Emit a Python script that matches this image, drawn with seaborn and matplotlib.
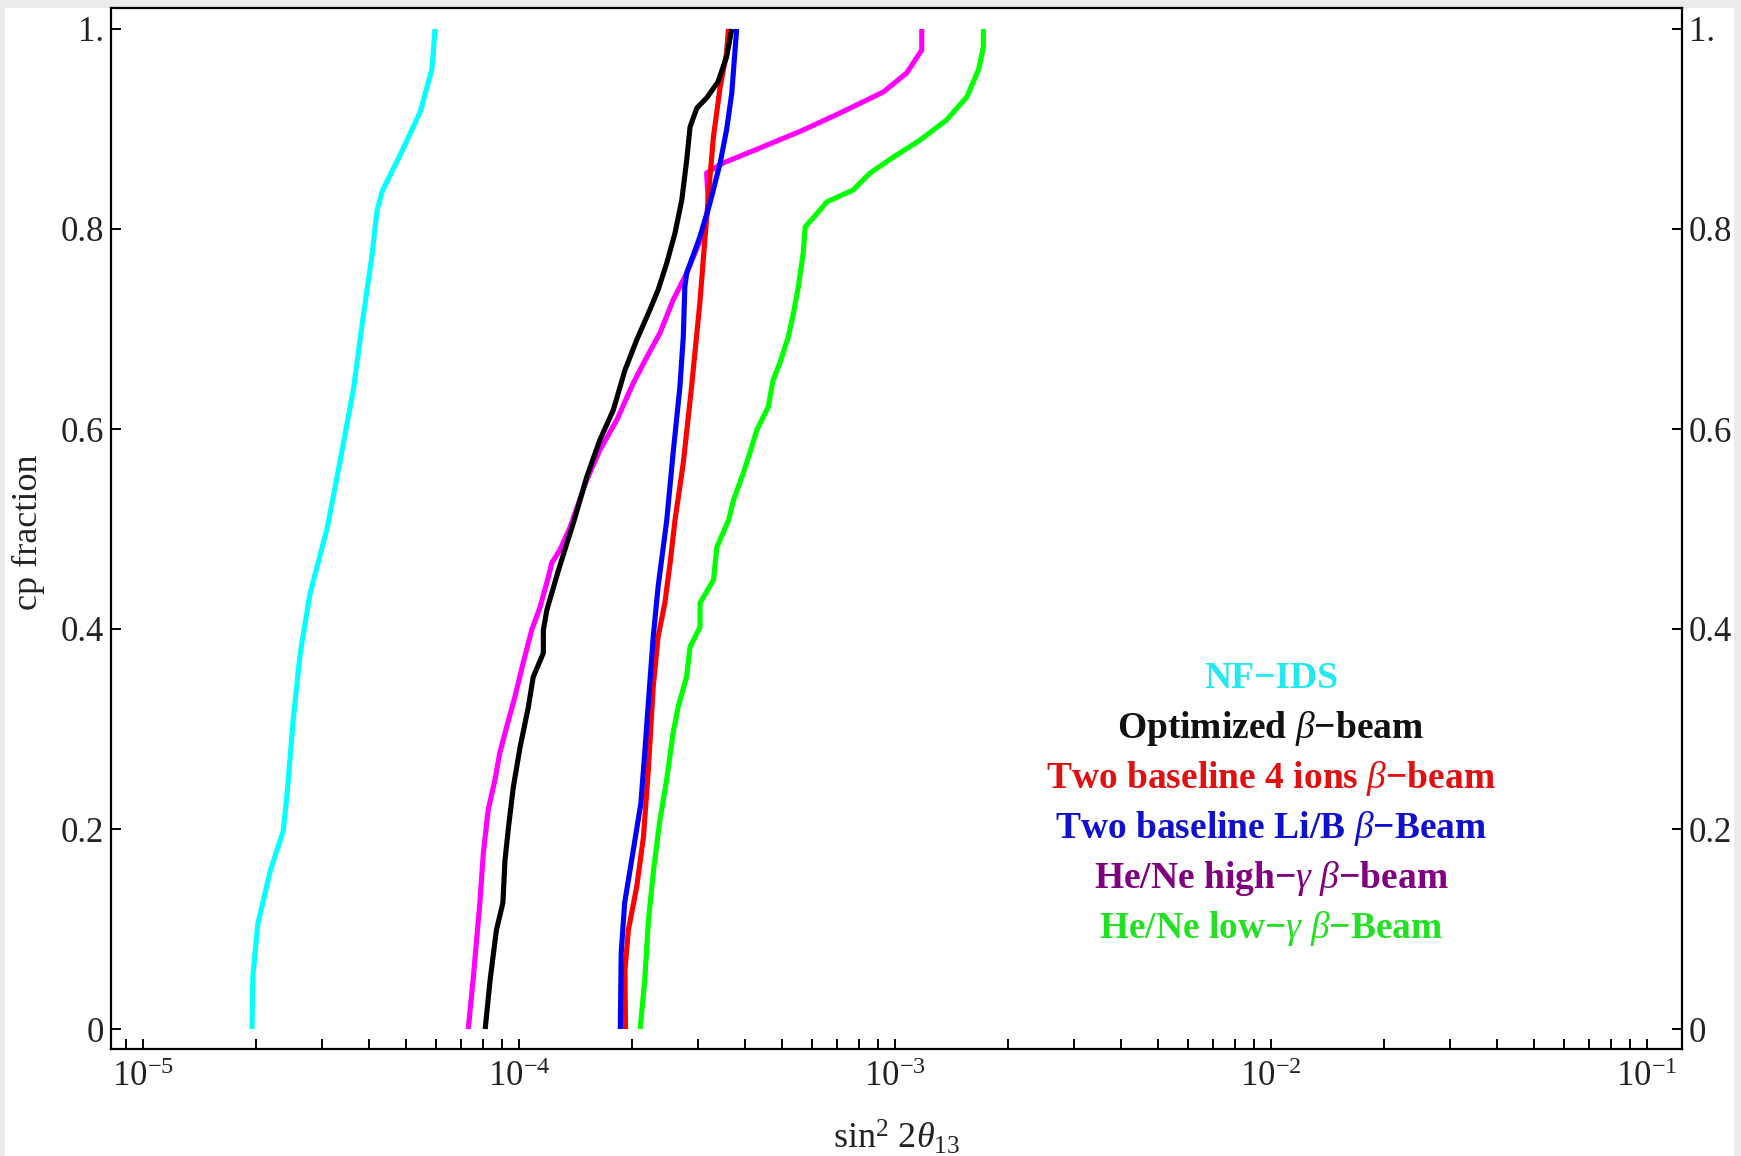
import matplotlib
matplotlib.use("Agg")
import numpy as np
import pandas as pd
import matplotlib.pyplot as plt
import seaborn as sns
from matplotlib.patches import Rectangle
from matplotlib.ticker import LogLocator, NullFormatter, FixedLocator, FixedFormatter

# ---------------- data ----------------
nf_cp = [0, .053, .105, .158, .198, .237, .31, .376, .435, .501, .567, .64, .712, .772, .818, .838, .874, .917, .96, 1.0]
nf_s2 = [1.95e-5, 1.96e-5, 2.02e-5, 2.18e-5, 2.36e-5, 2.42e-5, 2.51e-5, 2.62e-5, 2.78e-5, 3.09e-5,
         3.34e-5, 3.63e-5, 3.85e-5, 4.06e-5, 4.19e-5, 4.33e-5, 4.83e-5, 5.46e-5, 5.87e-5, 5.98e-5]

opt_cp = [0, .049, .099, .126, .169, .202, .242, .282, .322, .352, .376, .399, .419, .459, .509, .552,
          .589, .619, .659, .689, .719, .739, .766, .796, .829, .869, .902, .921, .931, .947, .972, 1.0]
opt_s2 = [8.13e-5, 8.38e-5, 8.71e-5, 9.06e-5, 9.18e-5, 9.38e-5, 9.66e-5, 1.007e-4, 1.059e-4, 1.091e-4,
          1.161e-4, 1.161e-4, 1.186e-4, 1.274e-4, 1.403e-4, 1.514e-4, 1.641e-4, 1.782e-4, 1.914e-4,
          2.056e-4, 2.228e-4, 2.344e-4, 2.472e-4, 2.600e-4, 2.710e-4, 2.793e-4, 2.851e-4, 2.972e-4,
          3.155e-4, 3.381e-4, 3.565e-4, 3.681e-4]

ions_cp = [0, .059, .099, .142, .192, .259, .342, .392, .426, .466, .509, .566, .642, .726, .792, .852, .892, .942, .976, 1.0]
ions_s2 = [1.92e-4, 1.914e-4, 1.954e-4, 2.056e-4, 2.143e-4, 2.208e-4, 2.275e-4, 2.344e-4, 2.443e-4,
           2.523e-4, 2.600e-4, 2.735e-4, 2.877e-4, 3.027e-4, 3.126e-4, 3.221e-4, 3.289e-4, 3.428e-4,
           3.565e-4, 3.606e-4]

lib_cp = [0, .076, .126, .182, .226, .276, .326, .392, .442, .509, .576, .642, .692, .742, .756, .792, .826, .866, .899, .936, .976, 1.0]
lib_s2 = [1.86e-4, 1.87e-4, 1.91e-4, 2.02e-4, 2.11e-4, 2.16e-4, 2.208e-4, 2.275e-4, 2.344e-4, 2.472e-4,
          2.570e-4, 2.679e-4, 2.735e-4, 2.761e-4, 2.793e-4, 3.027e-4, 3.221e-4, 3.428e-4, 3.565e-4,
          3.681e-4, 3.750e-4, 3.793e-4]

high_cp = [0, .049, .126, .176, .219, .249, .276, .302, .332, .366, .399, .422, .452, .466, .479, .502,
           .549, .579, .609, .646, .672, .696, .729, .756, .796, .822, .856, .866, .881, .899, .916, .937,
           .956, .979, 1.0]
high_s2 = [7.33e-5, 7.55e-5, 7.87e-5, 8.04e-5, 8.28e-5, 8.63e-5, 8.89e-5, 9.27e-5, 9.75e-5, 1.026e-4,
           1.081e-4, 1.138e-4, 1.197e-4, 1.222e-4, 1.285e-4, 1.368e-4, 1.514e-4, 1.641e-4, 1.820e-4,
           2.014e-4, 2.188e-4, 2.371e-4, 2.570e-4, 2.793e-4, 3.090e-4, 3.192e-4, 3.155e-4, 3.491e-4,
           4.375e-4, 5.702e-4, 7.145e-4, 9.311e-4, 1.074e-3, 1.178e-3, 1.178e-3]

low_cp = [0, .049, .109, .159, .209, .249, .296, .322, .352, .382, .402, .426, .449, .482, .509, .529,
          .556, .576, .599, .622, .649, .666, .692, .716, .742, .776, .802, .819, .827, .839, .856, .872,
          .889, .909, .932, .959, .982, 1.0]
low_s2 = [2.10e-4, 2.16e-4, 2.21e-4, 2.28e-4, 2.37e-4, 2.47e-4, 2.57e-4, 2.65e-4, 2.79e-4, 2.85e-4,
          3.03e-4, 3.03e-4, 3.29e-4, 3.36e-4, 3.61e-4, 3.72e-4, 3.95e-4, 4.11e-4, 4.29e-4, 4.60e-4,
          4.74e-4, 4.94e-4, 5.20e-4, 5.37e-4, 5.53e-4, 5.70e-4, 5.77e-4, 6.32e-4, 6.58e-4, 7.74e-4,
          8.59e-4, 9.91e-4, 1.167e-3, 1.371e-3, 1.552e-3, 1.667e-3, 1.718e-3, 1.718e-3]

labels = ["NF\u2212IDS",
          "Optimized $\\beta$\u2212beam",
          "Two baseline 4 ions $\\beta$\u2212beam",
          "Two baseline Li/B $\\beta$\u2212Beam",
          "He/Ne high\u2212$\\gamma$ $\\beta$\u2212beam",
          "He/Ne low\u2212$\\gamma$ $\\beta$\u2212Beam"]
label_y = [0.35, 0.30, 0.25, 0.20, 0.15, 0.10]
label_x = 1e-2

xticks = [1e-5, 1e-4, 1e-3, 1e-2, 1e-1]
xticklabels = ["$10^{-5}$", "$10^{-4}$", "$10^{-3}$", "$10^{-2}$", "$10^{-1}$"]
yticks = [0, 0.2, 0.4, 0.6, 0.8, 1.0]
yticklabels = ["0", "0.2", "0.4", "0.6", "0.8", "1."]

# ---------------- styling ----------------
line_colors = {"nf": "#00ffff", "low": "#00ff00", "high": "#ff00ff",
               "ions": "#ff0000", "lib": "#0000ff", "opt": "#000000"}
text_colors = ["#22e8f0", "#111111", "#e01010", "#1010d0", "#800080", "#22e022"]

sns.set_theme(style="white")
plt.rcParams.update({
    "font.family": ["Liberation Serif", "DejaVu Serif"],
    "mathtext.fontset": "custom",
    "mathtext.rm": "Liberation Serif",
    "mathtext.it": "Liberation Serif:italic",
    "mathtext.bf": "Liberation Serif:bold",
})

frames = []
for key, cp, s2 in [("nf", nf_cp, nf_s2), ("low", low_cp, low_s2), ("high", high_cp, high_s2),
                    ("ions", ions_cp, ions_s2), ("lib", lib_cp, lib_s2), ("opt", opt_cp, opt_s2)]:
    frames.append(pd.DataFrame({"exp": key, "cp": cp, "s2": s2, "order": np.arange(len(cp))}))
df = pd.concat(frames, ignore_index=True)

W, H = 1741, 1156
fig = plt.figure(figsize=(W / 100, H / 100), dpi=100)
fig.patch.set_facecolor("#ebebeb")
fig.patches.append(Rectangle((5 / W, 0), (1734 - 5) / W, (H - 8) / H, transform=fig.transFigure,
                             facecolor="white", edgecolor="none", zorder=-10))

ax = fig.add_axes([111 / W, 1 - 1049 / H, (1682 - 111) / W, (1049 - 8) / H])
ax.set_facecolor("white")

sns.lineplot(data=df, x="s2", y="cp", hue="exp", palette=line_colors,
             hue_order=["nf", "low", "high", "ions", "lib", "opt"],
             sort=False, estimator=None, units="exp", linewidth=3.7, legend=False, ax=ax)
for ln in ax.lines:
    ln.set_solid_joinstyle("round")
    ln.set_solid_capstyle("butt")

ax.set_xscale("log")
ax.set_xlim(10 ** -5.085, 10 ** -0.907)
ax.set_ylim(-0.02, 1.021)

ax.xaxis.set_major_locator(FixedLocator(xticks))
ax.xaxis.set_major_formatter(FixedFormatter(xticklabels))
ax.xaxis.set_minor_locator(LogLocator(base=10, subs=np.arange(2, 10)))
ax.xaxis.set_minor_formatter(NullFormatter())
ax.yaxis.set_major_locator(FixedLocator(yticks))
ax.yaxis.set_major_formatter(FixedFormatter(yticklabels))

ax.tick_params(axis="x", which="both", direction="in", top=False, bottom=True,
               labelsize=25, pad=9, color="black", labelcolor="#222222")
ax.tick_params(axis="x", which="major", length=7.5, width=1.4)
ax.tick_params(axis="x", which="minor", length=7, width=1.4)
ax.tick_params(axis="y", which="major", direction="in", left=True, right=True,
               labelleft=True, labelright=True, length=7, width=1.4, labelsize=25, pad=5,
               color="black", labelcolor="#222222")

for sp in ax.spines.values():
    sp.set_visible(True)
    sp.set_color("black")
    sp.set_linewidth(1.6)

ax.set_xlabel("sin$^{2}$ 2$\\theta_{13}$", fontsize=26, color="#222222")
ax.xaxis.set_label_coords(0.5, -0.0855)
ax.xaxis.label.set_va("center")
ax.set_ylabel("cp fraction", fontsize=26, color="#222222")
ax.yaxis.set_label_coords(-0.0528, 0.496)
ax.yaxis.label.set_va("center")

for lab, yy, col in zip(labels, label_y, text_colors):
    ax.text(label_x, yy, lab, color=col, ha="center", va="center",
            fontsize=27, fontweight="bold")

fig.savefig("out.png", dpi=100, facecolor=fig.get_facecolor())
